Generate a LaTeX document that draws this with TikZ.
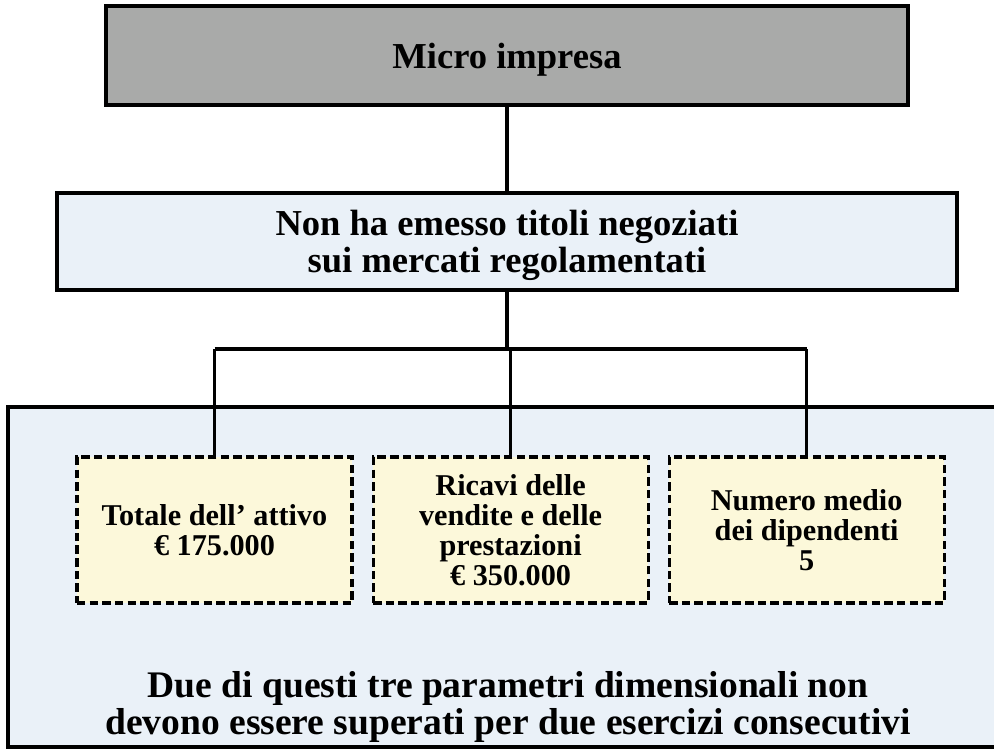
\documentclass[tikz,border=0pt]{standalone}
\usepackage{fontspec}
\setmainfont{Liberation Serif}
\usetikzlibrary{positioning, calc}

\definecolor{boxgray}{HTML}{A9AAA9}
\definecolor{lightblue}{HTML}{EAF1F8}
\definecolor{lightyellow}{HTML}{FCF8DA}

\begin{document}
\begin{tikzpicture}[
  mainbox/.style={draw, line width=2.2pt, fill=lightblue, align=center,
    text depth=0pt, font=\bfseries\fontsize{26}{26}\selectfont},
  parambox/.style={draw, dash pattern=on 6pt off 3pt, line width=2.2pt,
    fill=lightyellow, minimum width=6.875cm, minimum height=3.65cm,
    align=center, inner sep=0pt, text depth=0pt,
    font=\bfseries\fontsize{21.5}{21.5}\selectfont},
  link/.style={line width=2.2pt}
]
\useasboundingbox (0,0) rectangle (24.85,-18.725);
\clip (0,0) rectangle (24.85,-18.725);

% Outer region
\draw[line width=2.2pt, fill=lightblue] (0.2,-10.175) rectangle (25.5,-18.675);
\node[align=center, text depth=0pt, font=\bfseries\fontsize{26.7}{26}\selectfont] (nota) at (12.7,-17.58)
  {Due di questi tre parametri dimensionali non\\devono essere superati per due esercizi consecutivi};

% Top boxes
\node[mainbox, fill=boxgray, minimum width=20.05cm, minimum height=2.475cm] (micro) at (12.675,-1.3875) {Micro impresa};
\node[mainbox, minimum width=22.5cm, minimum height=2.425cm] (titoli) at (12.675,-6.0375) {Non ha emesso titoli negoziati\\sui mercati regolamentati};

% Parameters
\node[parambox] (attivo) at (5.3625,-13.25) {Totale dell’ attivo\\€ 175.000};
\node[parambox, right=0.45cm of attivo] (ricavi) {Ricavi delle\\vendite e delle\\prestazioni\\€ 350.000};
\node[parambox, right=0.45cm of ricavi] (dipendenti) {Numero medio\\dei dipendenti\\5};

% Connectors
\coordinate (branch) at (12.675,-8.725);
\draw[link] (micro) -- (titoli);
\draw[link] (titoli.south) -- (branch);
\draw[link] (attivo.north |- branch) -- (dipendenti.north |- branch);
\foreach \b in {attivo,ricavi,dipendenti}
    \draw[link] (\b.north |- branch) -- (\b.north);
\end{tikzpicture}
\end{document}
